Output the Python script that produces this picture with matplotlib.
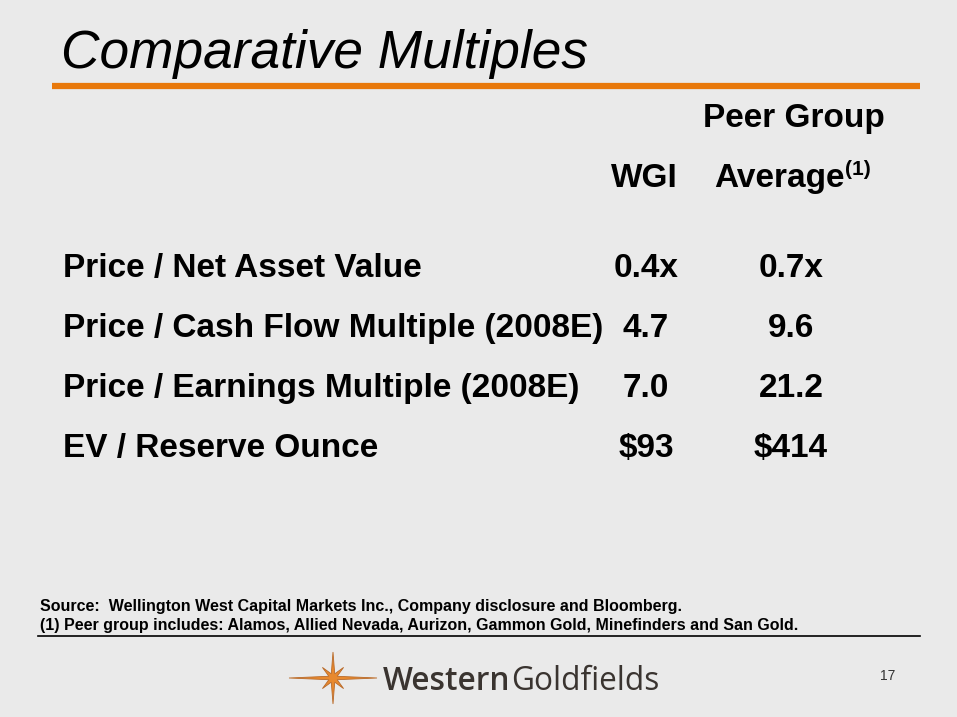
import numpy as np
import matplotlib.pyplot as plt
from matplotlib.patches import Polygon

title = "Comparative Multiples"
col_headers = ["WGI", "Average"]
metrics = ["Price / Net Asset Value",
           "Price / Cash Flow Multiple (2008E)",
           "Price / Earnings Multiple (2008E)",
           "EV / Reserve Ounce"]
wgi = ["0.4x", "4.7", "7.0", "$93"]
peer = ["0.7x", "9.6", "21.2", "$414"]
notes = ["Source:  Wellington West Capital Markets Inc., Company disclosure and Bloomberg.",
         "(1) Peer group includes: Alamos, Allied Nevada, Aurizon, Gammon Gold, Minefinders and San Gold."]

bg = "#EAEAEA"
fig = plt.figure(figsize=(9.57, 7.17), dpi=100, facecolor=bg)
ax = fig.add_axes([0, 0, 1, 1])
ax.set_xlim(0, 957)
ax.set_ylim(717, 0)
ax.axis("off")
ax.set_facecolor(bg)
r = fig.canvas.get_renderer()

sans = ["Liberation Sans", "DejaVu Sans"]

def right_edge(t):
    bb = t.get_window_extent(renderer=r)
    return ax.transData.inverted().transform((bb.x1, bb.y0))[0]

# title + orange rule
ax.text(61, 68, title, fontsize=38.3, style="italic", family=sans, va="baseline", ha="left")
ax.plot([52, 920], [86, 86], color="#E8780A", lw=4.5, solid_capstyle="butt")

# column headers
fs = 24
ax.text(885, 127, "Peer Group", fontsize=fs, weight="bold", family=sans, ha="right", va="baseline")
ax.text(644, 187, col_headers[0], fontsize=fs, weight="bold", family=sans, ha="center", va="baseline")
avg = ax.text(714, 187, col_headers[1], fontsize=fs, weight="bold", family=sans,
              ha="left", va="baseline")
ax.text(right_edge(avg) + 1, 175, "(1)", fontsize=15, weight="bold", family=sans,
        ha="left", va="baseline")

# rows
for i, (m, a, b) in enumerate(zip(metrics, wgi, peer)):
    y = 277 + i * 60
    ax.text(63, y, m, fontsize=fs, weight="bold", family=sans, ha="left", va="baseline")
    ax.text(646, y, a, fontsize=fs, weight="bold", family=sans, ha="center", va="baseline")
    ax.text(791, y, b, fontsize=fs, weight="bold", family=sans, ha="center", va="baseline")

# footnotes
for i, n in enumerate(notes):
    ax.text(40, 611 + i * 19, n, fontsize=11.5, weight="bold", family=sans, ha="left", va="baseline")
ax.plot([38, 920], [636, 636], color="black", lw=1.2)

# page number
ax.text(895, 680, "17", fontsize=10, family=sans, ha="right", va="baseline", color="#333333")

# logo star
cx, cy = 333, 678
pts = []
arms = [(0, 44), (45, 15), (90, 26), (135, 15), (180, 44), (225, 15), (270, 26), (315, 15)]
for ang, rad in arms:
    a = np.deg2rad(ang)
    pts.append((cx + rad * np.cos(a), cy - rad * np.sin(a)))
    a2 = np.deg2rad(ang + 22.5)
    pts.append((cx + 4.5 * np.cos(a2), cy - 4.5 * np.sin(a2)))
ax.add_patch(Polygon(pts, closed=True, facecolor="#E8892E", edgecolor="#B86A2A", lw=0.6))

logo_font = ["Open Sans", "DejaVu Sans"]
w1 = ax.text(383, 690, "Western", fontsize=22.8, weight="semibold", family=logo_font,
             color="#3A3430", ha="left", va="baseline")
ax.text(right_edge(w1) + 1, 690, "Goldfields", fontsize=22.8, family=logo_font,
        color="#3A3430", ha="left", va="baseline")

fig.savefig("out.png", dpi=100, facecolor=bg)
